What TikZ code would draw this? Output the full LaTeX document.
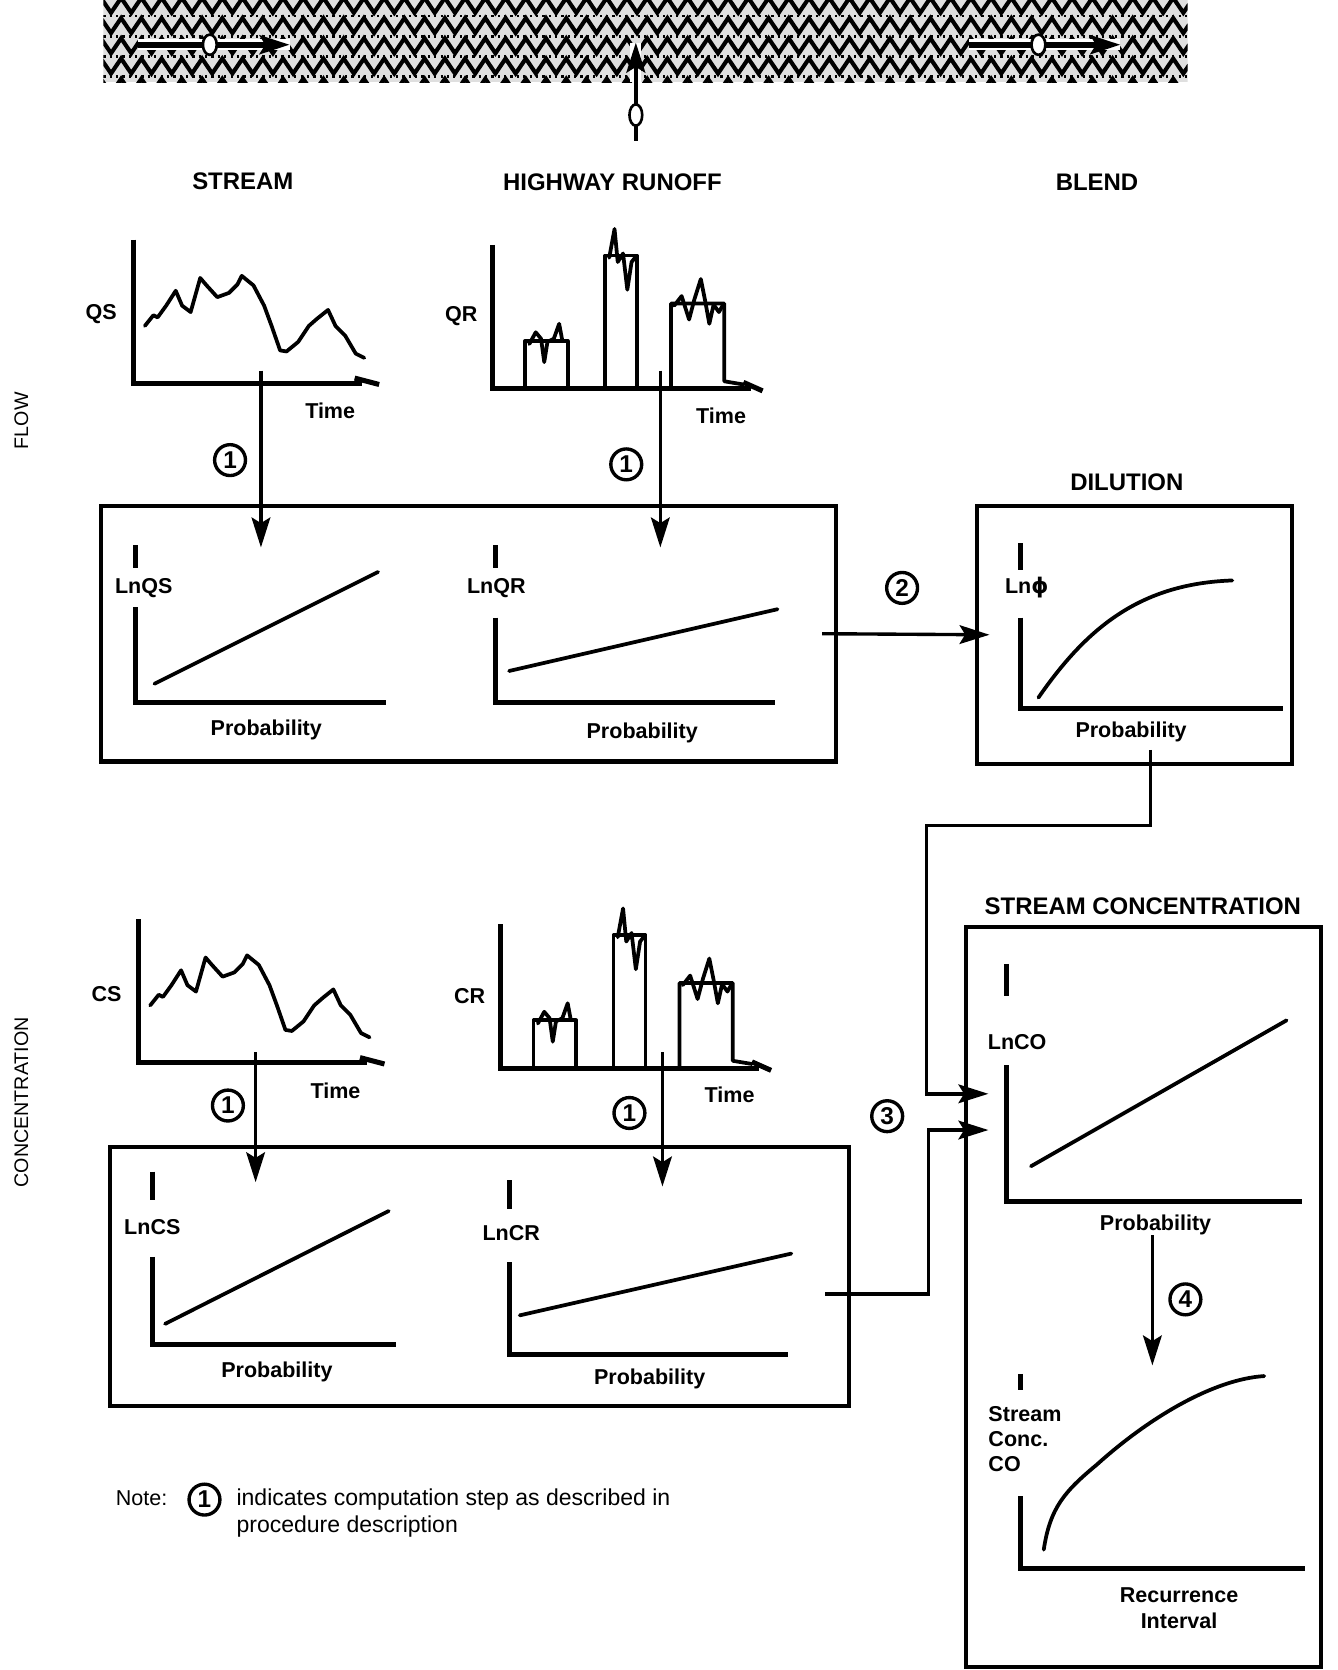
\documentclass[tikz,border=0pt]{standalone}
\usepackage{fontspec}
\setmainfont{Liberation Sans}
\newfontfamily\greekfont{DejaVu Sans}
\usetikzlibrary{arrows.meta,positioning,calc,fit,shapes.geometric,decorations.pathmorphing}
\tikzset{
	panel/.style={draw, line width=2.2pt, inner sep=0pt},
	axis/.style={line width=2.7pt},
	trace/.style={line width=2pt, line join=round, line cap=round},
	arrow/.style={-{Stealth[length=16pt,width=10pt,inset=3pt]}, line width=1.8pt},
	stepmark/.style={circle, draw, line width=1.8pt, inner sep=0pt,
		minimum size=0.58cm, font=\fontsize{13}{14}\selectfont\bfseries},
	lbl/.style={font=\fontsize{11.5}{13.5}\selectfont\bfseries, inner sep=1pt},
	heading/.style={font=\fontsize{12.8}{15}\selectfont\bfseries},
	sidelabel/.style={font=\fontsize{10.5}{12}\selectfont, rotate=90},
	notetext/.style={font=\fontsize{12.3}{14.5}\selectfont, align=left, inner sep=1pt},
	marker/.style={ellipse, draw, fill=white, line width=1.4pt, inner sep=0pt}
}

\begin{document}
\begin{tikzpicture}[x=0.02cm, y=-0.02cm]
	\useasboundingbox (0,0) rectangle (1256,1568);
	
	%% -- Stream band (top)
	\begin{scope}
		\clip (97,0) rectangle (1115,77);
		\fill[gray!25] (97,0) rectangle (1115,77);
		\foreach \yy in {5,24,43,62,81}
		\draw[line width=2.2pt, decorate,
		decoration={zigzag, segment length=0.38cm, amplitude=0.14cm}]
		(90,\yy) -- (1125,\yy);
		\foreach \yy in {15,34,53,72}
		\draw[line width=1.5pt, dash pattern=on 1.2pt off 2.2pt] (97,\yy) -- (1115,\yy);
	\end{scope}
	
	\coordinate (s-in) at (130,42);
	\coordinate (s-out) at (272,42);
	\coordinate (b-in) at (910,42);
	\coordinate (b-out) at (1052,42);
	\coordinate (r-in) at (597,132);
	\coordinate (r-out) at (597,40);
	\draw[line width=6pt, white] (s-in) -- (s-out);
	\draw[line width=6pt, white] (b-in) -- (b-out);
	\draw[line width=6pt, white] (597,77) -- (r-out);
	\draw[arrow, line width=3pt] (s-in) -- (s-out);
	\draw[arrow, line width=3pt] (b-in) -- (b-out);
	\draw[arrow, line width=2.4pt] (r-in) -- (r-out);
	\node[marker, minimum width=0.26cm, minimum height=0.38cm] (s-dot) at (197,42) {};
	\node[marker, minimum width=0.26cm, minimum height=0.38cm] (b-dot) at (975,42) {};
	\node[marker, minimum width=0.24cm, minimum height=0.4cm] (r-dot) at (597,108) {};
	
	%% -- Column headers
	\node[heading] (h-stream) at (228,170) {STREAM};
	\node[heading] (h-runoff) at (575,171) {HIGHWAY RUNOFF};
	\node[heading] (h-blend) at (1030,171) {BLEND};
	
	%% -- Row labels
	\node[sidelabel] (side-flow) at (20,395) {FLOW};
	\node[sidelabel] (side-conc) at (20,1035) {CONCENTRATION};
	
	%% -- Stream time series (QS, CS)
	\foreach \dx/\dy/\nm in {0/0/QS, 5/638/CS} {
		\begin{scope}[shift={(\dx,\dy)}]
			\draw[axis] (125,225) -- (125,360) -- (340,360);
			\draw[axis] (333,355) -- (356,361);
			\draw[trace] plot coordinates {(136,306) (144,296) (148,298) (156,287)
				(165,273) (171,287) (179,293) (188,261) (194,268) (204,279) (215,275)
				(223,267) (227,259) (238,268) (248,287) (255,306) (263,329) (269,330)
				(280,321) (290,306) (298,299) (308,291) (315,306) (324,315) (334,332)
				(342,336)};
			\node[lbl] (\nm-name) at (95,295) {\nm};
			\node[lbl] (\nm-time) at (310,386) {Time};
		\end{scope}
	}
	
	%% -- Runoff time series (QR, CR)
	\foreach \dx/\dy/\nm in {0/0/QR, 8/638/CR} {
		\begin{scope}[shift={(\dx,\dy)}]
			\draw[axis] (462,230) -- (462,365) -- (705,365);
			\draw[axis] (698,359) -- (716,367);
			\draw[trace] (493,365) -- (493,320) -- (533,320) -- (533,365);
			\draw[trace] (568,365) -- (568,240) -- (598,240) -- (598,365);
			\draw[trace] (630,365) -- (630,285) -- (680,285) -- (680,358) -- (698,361);
			\draw[trace] plot coordinates {(497,323) (503,312) (508,318) (511,340)
				(514,321) (520,318) (525,304) (528,320)};
			\draw[trace] plot coordinates {(572,242) (577,215) (580,246) (585,238)
				(589,272) (593,246) (597,241)};
			\draw[trace] plot coordinates {(633,287) (640,278) (647,300) (652,281)
				(658,262) (662,282) (666,304) (670,286) (675,293) (679,286)};
			\node[lbl] (\nm-name) at (433,297) {\nm};
			\node[lbl] (\nm-time) at (677,390) {Time};
		\end{scope}
	}
	
	%% -- Flow probability box
	\node[panel, fit={(95,475) (785,715)}] (flowbox) {};
	\draw[axis] (127,512) -- (127,533);
	\node[lbl] (lnqs) at (135,552) {LnQS};
	\draw[axis] (127,570) -- (127,660) -- (362,660);
	\draw[trace] (145,642) -- (355,537);
	\node[lbl] (lnqs-x) at (250,685) {Probability};
	
	\draw[axis] (465,512) -- (465,533);
	\node[lbl] (lnqr) at (466,552) {LnQR};
	\draw[axis] (465,580) -- (465,660) -- (728,660);
	\draw[trace] (478,630) -- (730,572);
	\node[lbl] (lnqr-x) at (603,688) {Probability};
	
	%% -- Dilution box
	\node[heading] (h-dil) at (1058,453) {DILUTION};
	\node[panel, fit={(917,475) (1213,717)}] (dil) {};
	\draw[axis] (958,510) -- (958,535);
	\node[lbl] (lnphi) at (964,552) {Ln{\greekfont ϕ}};
	\draw[axis] (958,580) -- (958,665) -- (1205,665);
	\draw[trace] (975,655) .. controls (1020,590) and (1070,548) .. (1157,545);
	\node[lbl] (lnphi-x) at (1062,687) {Probability};
	
	%% -- Concentration probability box
	\node[panel, fit={(103,1077) (797,1320)}] (concbox) {};
	\draw[axis] (143,1100) -- (143,1127);
	\node[lbl] (lncs) at (143,1152) {LnCS};
	\draw[axis] (143,1180) -- (143,1262) -- (372,1262);
	\draw[trace] (155,1243) -- (365,1137);
	\node[lbl] (lncs-x) at (260,1288) {Probability};
	
	\draw[axis] (478,1108) -- (478,1135);
	\node[lbl] (lncr) at (480,1158) {LnCR};
	\draw[axis] (478,1185) -- (478,1272) -- (740,1272);
	\draw[trace] (488,1235) -- (743,1177);
	\node[lbl] (lncr-x) at (610,1295) {Probability};
	
	%% -- Stream concentration box
	\node[heading] (h-sc) at (1073,851) {STREAM CONCENTRATION};
	\node[panel, fit={(907,870) (1240,1565)}] (sc) {};
	\draw[axis] (945,905) -- (945,935);
	\node[lbl] (lnco) at (955,978) {LnCO};
	\draw[axis] (945,1000) -- (945,1128) -- (1222,1128);
	\draw[trace] (968,1095) -- (1208,958);
	\node[lbl] (lnco-x) at (1085,1150) {Probability};
	
	\draw[axis] (958,1290) -- (958,1305);
	\node[lbl, align=left, anchor=north west] (co) at (926,1318) {Stream\\Conc.\\CO};
	\draw[axis] (958,1405) -- (958,1473) -- (1225,1473);
	\draw[trace] (980,1455) .. controls (986,1415) and (1000,1400) .. (1030,1375)
	.. controls (1080,1330) and (1140,1295) .. (1187,1292);
	\node[lbl, align=center] (co-x) at (1107,1510) {Recurrence\\Interval};
	
	%% -- Step 1 arrows
	\coordinate (qs-out) at (245,348);
	\coordinate (qs-in) at (245,514);
	\coordinate (qr-out) at (620,348);
	\coordinate (qr-in) at (620,514);
	\coordinate (cs-out) at (240,988);
	\coordinate (cs-in) at (240,1110);
	\coordinate (cr-out) at (622,988);
	\coordinate (cr-in) at (622,1114);
	\draw[arrow] (qs-out) -- (qs-in);
	\draw[arrow] (qr-out) -- (qr-in);
	\draw[arrow] (cs-out) -- (cs-in);
	\draw[arrow] (cr-out) -- (cr-in);
	\node[stepmark] (m1a) at (216,432) {1};
	\node[stepmark] (m1b) at (588,436) {1};
	\node[stepmark] (m1c) at (214,1038) {1};
	\node[stepmark] (m1d) at (591,1045) {1};
	
	%% -- Step 2: flow to dilution
	\draw[arrow] ([xshift=-0.3cm]flowbox.east) -- ([xshift=0.28cm]dil.west);
	\node[stepmark] (m2) at (847,552) {2};
	
	%% -- Step 3: dilution and concentration into stream concentration
	\coordinate (dil-out) at (1080,704);
	\coordinate (bend-a) at (870,775);
	\coordinate (sc-in-a) at (928,1027);
	\draw[arrow] (dil-out) |- (bend-a) |- (sc-in-a);
	
	\coordinate (conc-out) at (775,1215);
	\coordinate (bend-b) at (872,1061);
	\coordinate (sc-in-b) at (928,1061);
	\draw[arrow] (conc-out) -| (bend-b) -- (sc-in-b);
	\node[stepmark] (m3) at (833,1048) {3};
	
	%% -- Step 4
	\coordinate (co-out) at (1082,1160);
	\coordinate (co-in) at (1082,1282);
	\draw[arrow] (co-out) -- (co-in);
	\node[stepmark] (m4) at (1113,1220) {4};
	
	%% -- Note
	\node[lbl, font=\fontsize{11.5}{13.5}\selectfont] (note) at (133,1407) {Note:};
	\node[stepmark] (note-mark) at (192,1408) {1};
	\node[notetext, anchor=west] (note-text) at (220,1421)
	{indicates computation step as described in\\procedure description};
	
\end{tikzpicture}
\end{document}
